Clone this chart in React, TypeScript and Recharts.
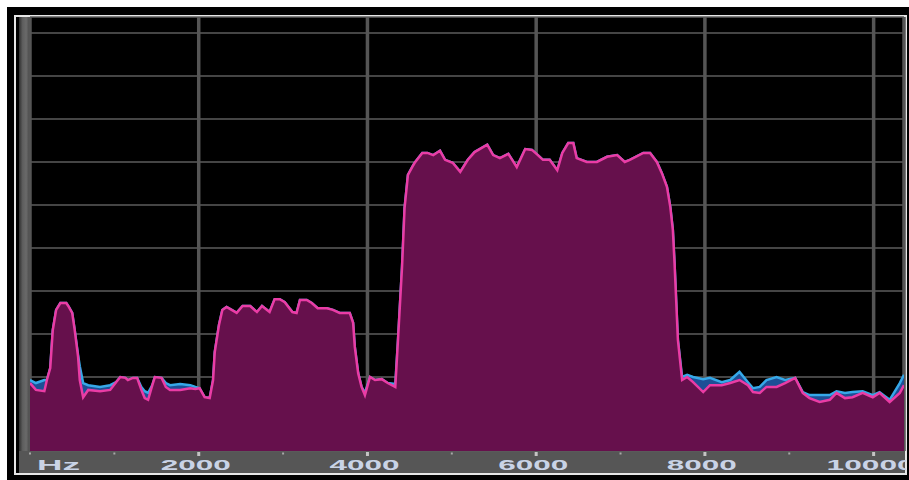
import { ComposedChart, Area, XAxis, YAxis, CartesianGrid } from "recharts";

// Spectrum trace: frequency (Hz) and level (dB) of the live and reference sweeps
const freqs = [
  0, 70, 170, 200, 240, 270, 310, 360, 430, 460,
  500, 530, 570, 590, 630, 690, 830, 950, 1020, 1070,
  1130, 1160, 1220, 1270, 1320, 1360, 1400, 1450, 1480, 1560,
  1610, 1660, 1780, 1900, 1960, 2010, 2070, 2130, 2170, 2190,
  2240, 2280, 2330, 2390, 2450, 2520, 2610, 2690, 2750, 2840,
  2900, 2960, 3020, 3110, 3160, 3200, 3280, 3340, 3410, 3520,
  3590, 3670, 3790, 3830, 3850, 3890, 3930, 3970, 4030, 4090,
  4170, 4240, 4330, 4360, 4410, 4440, 4480, 4530, 4560, 4650,
  4710, 4780, 4860, 4920, 5010, 5100, 5190, 5270, 5420, 5490,
  5570, 5670, 5770, 5870, 5950, 6020, 6080, 6160, 6250, 6310,
  6380, 6440, 6480, 6600, 6720, 6840, 6960, 7050, 7110, 7270,
  7350, 7430, 7490, 7550, 7590, 7620, 7640, 7680, 7730, 7790,
  7860, 7980, 8060, 8200, 8300, 8410, 8510, 8570, 8650, 8730,
  8850, 8950, 9070, 9160, 9240, 9360, 9480, 9560, 9660, 9750,
  9870, 9990, 10070, 10190, 10310, 10360,
];

const liveLevel = [
  -81.4, -83.0, -83.3, -80.7, -77.9, -69.1, -64.4, -62.8, -62.8, -63.7,
  -65.1, -69.1, -75.3, -80.7, -84.7, -83.0, -83.3, -83.0, -81.2, -80.0,
  -80.2, -80.7, -80.2, -80.2, -83.0, -84.9, -85.3, -81.9, -80.0, -80.2,
  -82.3, -83.0, -83.0, -82.6, -82.8, -82.6, -84.7, -84.9, -80.7, -74.2,
  -67.9, -64.4, -63.7, -64.4, -65.1, -63.5, -63.5, -64.9, -63.5, -64.9,
  -61.9, -61.9, -62.6, -64.9, -65.1, -62.1, -62.1, -62.8, -64.0, -64.0,
  -64.4, -65.1, -65.1, -67.4, -73.0, -79.1, -82.3, -84.2, -80.0, -80.7,
  -80.5, -81.4, -82.3, -72.1, -54.4, -40.7, -33.0, -31.2, -30.2, -27.9,
  -27.9, -28.4, -27.4, -29.5, -30.2, -32.3, -29.5, -27.7, -26.0, -28.4,
  -29.1, -28.1, -31.2, -27.0, -27.2, -28.4, -29.5, -29.5, -31.9, -27.9,
  -25.6, -25.6, -29.1, -30.0, -30.0, -28.8, -28.4, -30.0, -29.5, -27.9,
  -27.9, -30.0, -32.6, -35.8, -40.5, -45.8, -53.5, -71.4, -80.7, -80.0,
  -81.2, -83.5, -81.9, -81.9, -81.4, -80.7, -81.9, -83.5, -83.7, -82.3,
  -82.3, -81.4, -80.2, -83.7, -84.9, -85.8, -85.3, -83.7, -84.9, -84.7,
  -83.7, -84.7, -83.7, -85.8, -83.7, -81.9,
];

const refLevel = [
  -80.7, -81.4, -80.7, -80.7, -77.9, -69.1, -64.4, -62.8, -62.8, -63.7,
  -65.1, -69.1, -74.9, -77.5, -81.4, -81.9, -82.3, -81.9, -81.2, -80.0,
  -80.2, -80.7, -80.2, -80.2, -82.3, -83.3, -83.7, -81.9, -80.0, -80.2,
  -81.4, -81.9, -81.6, -81.9, -82.3, -82.6, -84.7, -84.9, -80.7, -74.2,
  -67.9, -64.4, -63.7, -64.4, -65.1, -63.5, -63.5, -64.9, -63.5, -64.9,
  -61.9, -61.9, -62.6, -64.9, -65.1, -62.1, -62.1, -62.8, -64.0, -64.0,
  -64.4, -65.1, -65.1, -67.4, -73.0, -79.1, -82.3, -83.7, -80.0, -80.7,
  -80.5, -81.4, -81.6, -72.1, -54.4, -40.7, -33.0, -31.2, -30.2, -27.9,
  -27.9, -28.4, -27.4, -29.5, -30.2, -32.3, -29.5, -27.7, -26.0, -28.4,
  -29.1, -28.1, -31.2, -27.0, -27.2, -28.4, -29.5, -29.5, -31.9, -27.9,
  -25.6, -25.6, -29.1, -30.0, -30.0, -28.8, -28.4, -30.0, -29.5, -27.9,
  -27.9, -30.0, -32.6, -35.8, -40.5, -45.8, -53.5, -71.4, -80.0, -79.5,
  -80.0, -80.5, -80.2, -81.2, -80.7, -78.8, -81.2, -82.6, -82.3, -80.7,
  -80.0, -80.7, -80.2, -83.5, -84.2, -84.2, -84.2, -83.3, -83.7, -83.5,
  -83.3, -84.2, -83.5, -85.3, -81.4, -79.5,
];

const axisTicks = [0, 1000, 2000, 3000, 4000, 5000, 6000, 7000, 8000, 9000, 10000];
const gridFreqs = [2000, 4000, 6000, 8000, 10000];
const levelTicks = [0, -10, -20, -30, -40, -50, -60, -70, -80, -90];

const data = freqs.map((f, i) => ({ f, live: liveLevel[i], ref: refLevel[i] }));

const LABEL = "#c9d3e6";
const FREQ_DOMAIN: [number, number] = [0, 10360];

function FreqTick(props: any) {
  const { x, y, payload } = props;
  const v = payload.value as number;
  const major = v > 0 && v % 2000 === 0;
  const label = v === 0 ? "Hz" : major ? String(v) : null;
  return (
    <g>
      {major ? (
        <rect x={x - 1.5} y={y + 1} width={3} height={4} fill="#c4c4c4" />
      ) : (
        <rect x={x - 1} y={y + 1.5} width={2} height={2} fill="#a8a8a8" />
      )}
      {label && (
        <text
          x={v === 0 ? x + 7 : x - 3}
          y={y + 19}
          textAnchor={v === 0 ? "start" : "middle"}
          fill={LABEL}
          fontSize={14}
          fontWeight="bold"
          fontFamily="Arial, 'Liberation Sans', sans-serif"
          textLength={v === 0 ? 43 : label.length * 18 - 2}
          lengthAdjust="spacingAndGlyphs"
        >
          {label}
        </text>
      )}
    </g>
  );
}

export default function App() {
  return (
    <div style={{ position: "relative", width: 909, height: 480, background: "#fff", overflow: "hidden" }}>
      <style>{"body{margin:0}"}</style>
      {/* bezel */}
      <div style={{ position: "absolute", left: 7, top: 7, width: 902, height: 473, background: "#000" }} />
      <div
        style={{
          position: "absolute",
          left: 14,
          top: 15,
          width: 893,
          height: 460,
          border: "2px solid #e6e6e6",
          boxSizing: "border-box",
        }}
      />
      {/* left scale strip and frequency axis band */}
      <div
        style={{
          position: "absolute",
          left: 19,
          top: 17,
          width: 12,
          height: 435,
          background: "linear-gradient(to right, #2e2e2e, #5e5e5e 30%, #6a6a6a 60%, #3c3c3c)",
        }}
      />
      <div style={{ position: "absolute", left: 19, top: 451, width: 886, height: 22, background: "#565656" }} />
      <div style={{ position: "absolute", left: 0, top: 0, width: 906, height: 480, overflow: "hidden" }}>
        <ComposedChart width={906} height={480} data={data} margin={{ top: 17, right: 2, bottom: 7, left: 30 }}>
          <CartesianGrid horizontal vertical={false} stroke="#5c5c5c" strokeWidth={1.5} />
          <CartesianGrid horizontal={false} vertical xAxisId="grid" stroke="#555" strokeWidth={3.5} />
          <XAxis
            dataKey="f"
            type="number"
            domain={FREQ_DOMAIN}
            ticks={axisTicks}
            interval={0}
            allowDataOverflow
            tickLine={false}
            axisLine={false}
            tickSize={0}
            tickMargin={0}
            height={22}
            tick={<FreqTick />}
          />
          {/* major divisions only, used for the vertical grid */}
          <XAxis
            xAxisId="grid"
            dataKey="f"
            type="number"
            domain={FREQ_DOMAIN}
            ticks={gridFreqs}
            interval={0}
            allowDataOverflow
            hide
          />
          <YAxis hide type="number" domain={[-97.2, 3.7]} ticks={levelTicks} allowDataOverflow />
          <Area
            dataKey="ref"
            type="linear"
            stroke="#36a8e8"
            strokeWidth={2.5}
            fill="#1d4f96"
            fillOpacity={1}
            baseValue="dataMin"
            dot={false}
            activeDot={false}
            isAnimationActive={false}
          />
          <Area
            dataKey="live"
            type="linear"
            stroke="#ea3ca5"
            strokeWidth={2.5}
            fill="#66104c"
            fillOpacity={1}
            baseValue="dataMin"
            dot={false}
            activeDot={false}
            isAnimationActive={false}
          />
        </ComposedChart>
      </div>
    </div>
  );
}
